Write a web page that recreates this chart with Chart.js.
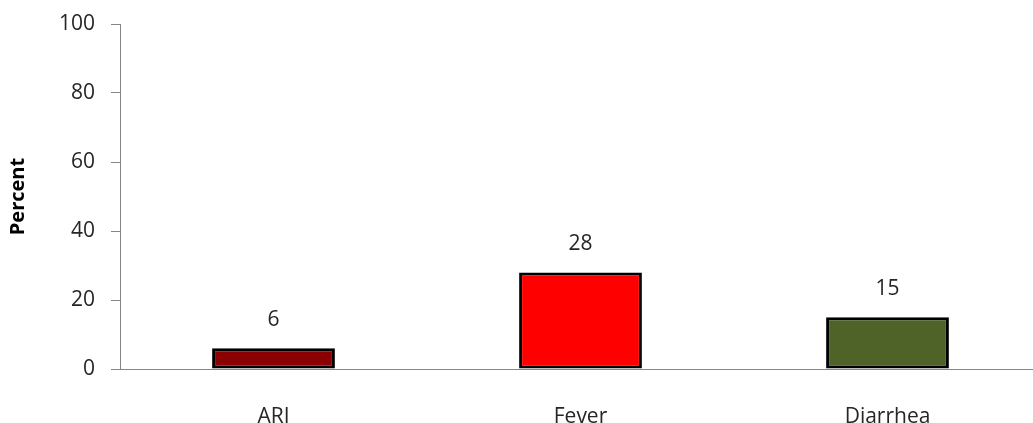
<!DOCTYPE html>
<html>
<head>
<meta charset="utf-8">
<script src="https://cdn.jsdelivr.net/npm/chart.js@4/dist/chart.umd.min.js"></script>
<style>
  html, body { margin: 0; padding: 0; background: #fff; overflow: hidden; }
  #wrap { width: 1045px; height: 423px; }
</style>
</head>
<body>
<div id="wrap"><canvas id="myChart"></canvas></div>
<script>
const categories = ['ARI', 'Fever', 'Diarrhea'];
const values = [6, 28, 15];
const barColors = ['#8B0000', '#FF0000', '#4F6228'];
const yTicks = [0, 20, 40, 60, 80, 100];

const FONT = "'Open Sans', 'Liberation Sans', sans-serif";

// writes the value over each bar
const valueLabels = {
    id: 'valueLabels',
    afterDatasetsDraw(chart) {
        const ctx = chart.ctx;
        const meta = chart.getDatasetMeta(0);
        ctx.save();
        ctx.font = '21px ' + FONT;
        ctx.fillStyle = '#262626';
        ctx.textAlign = 'center';
        ctx.textBaseline = 'middle';
        meta.data.forEach((bar, i) => {
            ctx.fillText(String(values[i]), bar.x, bar.y - 28);
        });
        ctx.restore();
    }
};

const ctx = document.getElementById('myChart').getContext('2d');
const myChart = new Chart(ctx, {
    type: 'bar',
    data: {
        labels: categories,
        datasets: [{
            data: values,
            backgroundColor: barColors,
            borderColor: '#000',
            borderWidth: 3,
            borderSkipped: false,
            barPercentage: 0.4,
            categoryPercentage: 1.0
        }]
    },
    options: {
        responsive: true,
        maintainAspectRatio: false,
        animation: false,
        layout: { padding: { top: 24, right: 4, left: 0, bottom: 0 } },
        plugins: {
            legend: { display: false },
            tooltip: { enabled: false }
        },
        scales: {
            x: {
                grid: { display: false },
                border: { color: '#868686', width: 1 },
                ticks: {
                    color: '#262626',
                    font: { family: FONT, size: 21 },
                    padding: 27
                },
                afterFit(scale) { scale.height = 54; }
            },
            y: {
                min: 0,
                max: 100,
                afterBuildTicks(scale) {
                    scale.ticks = yTicks.map(v => ({ value: v }));
                },
                grid: {
                    drawOnChartArea: false,
                    drawTicks: true,
                    tickLength: 9,
                    color: '#868686'
                },
                border: { color: '#868686', width: 1 },
                ticks: {
                    color: '#262626',
                    font: { family: FONT, size: 21 },
                    padding: 16
                },
                title: {
                    display: true,
                    text: 'Percent',
                    color: '#000',
                    font: { family: FONT, size: 20, weight: 'bold' },
                    padding: { top: 6, bottom: 8 }
                },
                afterFit(scale) {
                    scale.width = 120;
                    scale.paddingTop = 0;
                    scale.paddingBottom = 0;
                }
            }
        }
    },
    plugins: [valueLabels]
});
</script>
</body>
</html>
